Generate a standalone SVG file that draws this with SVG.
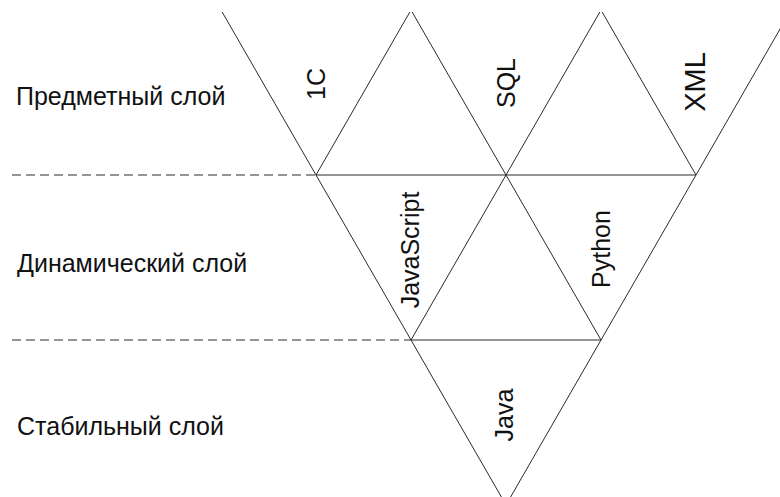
<svg xmlns="http://www.w3.org/2000/svg" width="780" height="497" viewBox="0 0 780 497">
  <style>
    .tri { fill: none; stroke: #2a2a2a; stroke-width: 1; stroke-linejoin: miter; }
    .sep { stroke: #2a2a2a; stroke-width: 1; stroke-dasharray: 9 5; fill: none; }
    .lbl { font-family: "Liberation Sans", Arial, sans-serif; font-size: 25px; fill: #111; }
    .lang { font-family: "Liberation Sans", Arial, sans-serif; font-size: 25px; fill: #111; text-anchor: middle; }
  </style>
  <defs>
    <clipPath id="clip"><rect x="0" y="12" width="780" height="485"/></clipPath>
  </defs>
  <rect width="780" height="497" fill="#fff"/>
  <g id="connectors">
    <line class="sep" x1="12" y1="175" x2="316" y2="175"/>
    <line class="sep" x1="12" y1="340" x2="411" y2="340"/>
  </g>
  <g clip-path="url(#clip)">
    <g id="node-1c">
      <polygon class="tri" points="221,10 411,10 316,175"/>
      <text class="lang" transform="translate(325,84) rotate(-90)">1C</text>
    </g>
    <g id="node-sql">
      <polygon class="tri" points="411,10 601,10 506,175"/>
      <text class="lang" transform="translate(515,83) rotate(-90)">SQL</text>
    </g>
    <g id="node-xml">
      <polygon class="tri" points="601,10 791,10 696,175"/>
      <text class="lang" style="font-size:29px" transform="translate(705,82) rotate(-90)">XML</text>
    </g>
    <g id="node-javascript">
      <polygon class="tri" points="316,175 506,175 411,340"/>
      <text class="lang" transform="translate(419,250) rotate(-90)">JavaScript</text>
    </g>
    <g id="node-python">
      <polygon class="tri" points="506,175 696,175 601,340"/>
      <text class="lang" transform="translate(610,249) rotate(-90)">Python</text>
    </g>
    <g id="node-java">
      <polygon class="tri" points="411,340 601,340 506,505"/>
      <text class="lang" transform="translate(513,415) rotate(-90)">Java</text>
    </g>
  </g>
  <g id="layer-subject">
    <text class="lbl" x="16" y="105">Предметный слой</text>
  </g>
  <g id="layer-dynamic">
    <text class="lbl" x="17" y="272">Динамический слой</text>
  </g>
  <g id="layer-stable">
    <text class="lbl" x="17" y="435">Стабильный слой</text>
  </g>
</svg>
